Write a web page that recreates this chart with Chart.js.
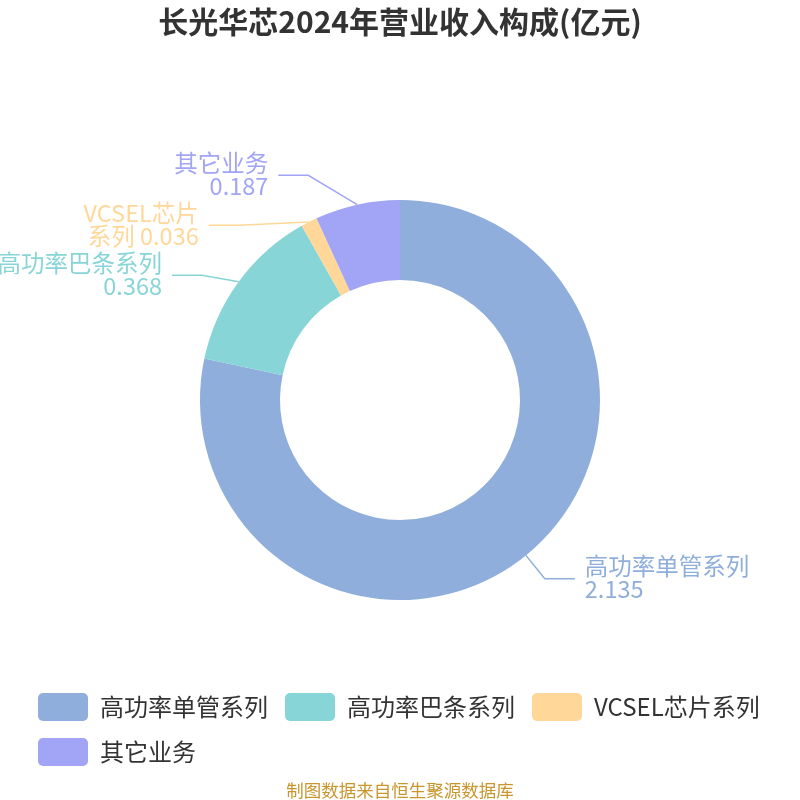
<!DOCTYPE html>
<html>
<head>
<meta charset="utf-8">
<script src="https://cdn.jsdelivr.net/npm/chart.js@4.4.1/dist/chart.umd.min.js"></script>
<style>
  html, body { margin: 0; padding: 0; background: #fff; }
  #wrap { width: 800px; height: 800px; }
</style>
</head>
<body>
<div id="wrap"><canvas id="myChart" width="800" height="800"></canvas></div>
<script>
const chartTitle = '长光华芯2024年营业收入构成(亿元)';
const sourceNote = '制图数据来自恒生聚源数据库';
const categories = ['高功率单管系列', '高功率巴条系列', 'VCSEL芯片系列', '其它业务'];
const revenue = [2.135, 0.368, 0.036, 0.187];
const sliceColors = ['#8FAEDB', '#87D5D7', '#FFD799', '#A2A4F5'];
// where each "name value" label wraps onto its second line
const labelBreakAt = [7, 7, 7, 4];

const FONT = "'Noto Sans CJK SC', 'Noto Sans', sans-serif";
const LINE_LEN = 30;
const LINE_LEN2 = 30;
const TEXT_GAP = 10;
const LABEL_GAP = 50;
const ELLIPSE_EXTRA = 15;

const outsideLabels = {
  id: 'outsideLabels',
  afterDatasetsDraw(chart) {
    const ctx = chart.ctx;
    const arcs = chart.getDatasetMeta(0).data;
    const items = arcs.map((arc, i) => {
      const p = arc.getProps(['x', 'y', 'startAngle', 'endAngle', 'outerRadius'], true);
      const mid = (p.startAngle + p.endAngle) / 2;
      const dx = Math.cos(mid), dy = Math.sin(mid);
      const r1 = p.outerRadius + LINE_LEN;
      return {
        i: i, cx: p.x, cy: p.y, r: p.outerRadius,
        dir: dx < 0 ? -1 : 1,
        x0: p.x + dx * p.outerRadius, y0: p.y + dy * p.outerRadius,
        ex: p.x + dx * r1, ey: p.y + dy * r1
      };
    });

    // push labels down so they don't overlap, then put elbows back on a curve
    [-1, 1].forEach(dir => {
      const side = items.filter(it => it.dir === dir).sort((a, b) => a.ey - b.ey);
      if (side.length < 2) return;
      let shifted = false;
      for (let k = 1; k < side.length; k++) {
        const minY = side[k - 1].ey + LABEL_GAP;
        if (side[k].ey < minY) { side[k].ey = minY; shifted = true; }
      }
      if (!shifted) return;
      side.forEach(it => {
        const rA = it.r + LINE_LEN, rB = rA + ELLIPSE_EXTRA;
        const d = Math.abs(it.ey - it.cy);
        it.ex = it.cx + dir * Math.sqrt(Math.max(0, 1 - d * d / (rB * rB))) * rA;
      });
    });

    ctx.save();
    items.forEach(it => {
      const color = sliceColors[it.i];
      const endX = it.ex + it.dir * LINE_LEN2;
      ctx.strokeStyle = color;
      ctx.lineWidth = 1.5;
      ctx.beginPath();
      ctx.moveTo(it.x0, it.y0);
      ctx.lineTo(it.ex, it.ey);
      ctx.lineTo(endX, it.ey);
      ctx.stroke();

      const full = categories[it.i] + ' ' + revenue[it.i];
      const lines = [full.slice(0, labelBreakAt[it.i]), full.slice(labelBreakAt[it.i]).trim()];
      ctx.fillStyle = color;
      ctx.font = '23.5px ' + FONT;
      ctx.textBaseline = 'middle';
      ctx.textAlign = it.dir < 0 ? 'right' : 'left';
      const tx = endX + it.dir * TEXT_GAP;
      ctx.fillText(lines[0], tx, it.ey - 12.5);
      ctx.fillText(lines[1], tx, it.ey + 10.5);
    });
    ctx.restore();
  }
};

const sourceText = {
  id: 'sourceText',
  afterDraw(chart) {
    const ctx = chart.ctx;
    ctx.save();
    ctx.fillStyle = '#C8962D';
    ctx.font = '17.5px ' + FONT;
    ctx.textAlign = 'center';
    ctx.textBaseline = 'middle';
    ctx.fillText(sourceNote, chart.width / 2, 790);
    ctx.restore();
  }
};

new Chart('myChart', {
  type: 'doughnut',
  data: {
    labels: categories,
    datasets: [{
      data: revenue,
      backgroundColor: sliceColors,
      borderWidth: 0,
      radius: 200,
      cutout: '60%'
    }]
  },
  options: {
    responsive: false,
    animation: false,
    layout: { padding: { left: 21, right: 21, top: 0, bottom: 24 } },
    plugins: {
      title: {
        display: true,
        text: chartTitle,
        color: '#333333',
        font: { family: FONT, size: 30, weight: 'bold' },
        padding: { top: 4, bottom: 84 }
      },
      legend: {
        position: 'bottom',
        align: 'start',
        labels: {
          boxWidth: 50,
          boxHeight: 28,
          useBorderRadius: true,
          borderRadius: 5,
          padding: 17,
          color: '#333333',
          font: { family: FONT, size: 24 }
        }
      },
      tooltip: { enabled: false }
    }
  },
  plugins: [outsideLabels, sourceText]
});
</script>
</body>
</html>
